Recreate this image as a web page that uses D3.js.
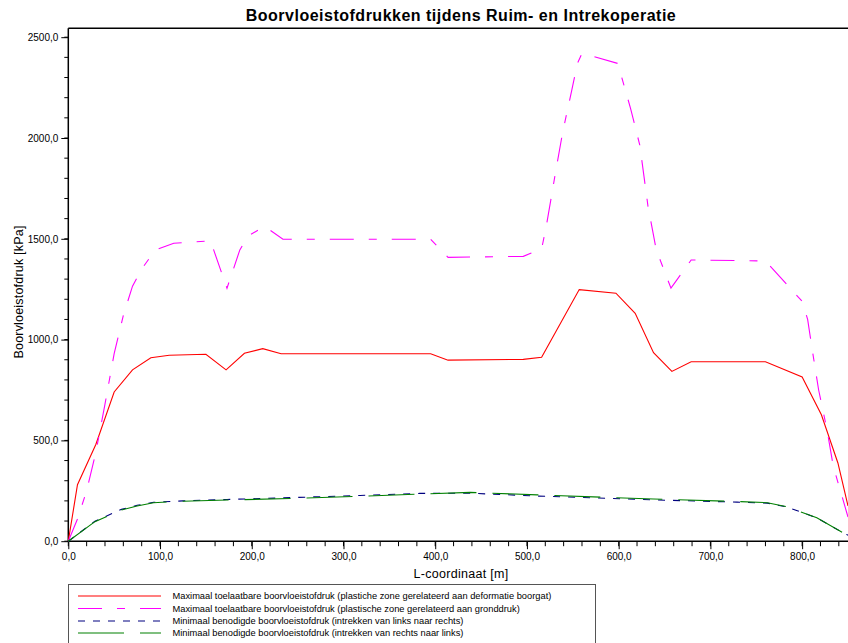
<!DOCTYPE html>
<html>
<head>
<meta charset="utf-8">
<script src="https://cdn.jsdelivr.net/npm/d3@7"></script>
<style>
  html, body { margin: 0; padding: 0; background: #fff; }
  svg { display: block; }
  text { font-family: "Liberation Sans", Arial, sans-serif; fill: #000; }
</style>
</head>
<body>
<svg id="chart" width="848" height="643"></svg>
<script>
// ---- data ----
const title = "Boorvloeistofdrukken tijdens Ruim- en Intrekoperatie";
const xLabel = "L-coordinaat [m]";
const yLabel = "Boorvloeistofdruk [kPa]";

const seriesNames = [
  "Maximaal toelaatbare boorvloeistofdruk (plastiche zone gerelateerd aan deformatie boorgat)",
  "Maximaal toelaatbare boorvloeistofdruk (plastische zone gerelateerd aan gronddruk)",
  "Minimaal benodigde boorvloeistofdruk (intrekken van links naar rechts)",
  "Minimaal benodigde boorvloeistofdruk (intrekken van rechts naar links)"
];

const xTickValues = [0, 100, 200, 300, 400, 500, 600, 700, 800];
const yTickValues = [0, 500, 1000, 1500, 2000, 2500];

// [L-coordinate (m), pressure (kPa)]
const maxDeformatie = [
  [0,0],[10,280],[30,480],[50,740],[70,850],[90,910],[110,922],[150,927],[172,850],
  [192,932],[212,955],[232,930],[395,930],[414,898],[496,902],[516,912],[557,1248],
  [597,1230],[618,1130],[638,935],[658,842],[679,890],[760,890],[800,815],[821,627],
  [839,388],[850,175]
];
const maxGronddruk = [
  [0,0],[10,110],[20,250],[30,440],[40,680],[50,930],[60,1120],[70,1265],[80,1350],
  [95,1445],[115,1478],[155,1490],[173,1255],[187,1445],[196,1514],[214,1562],[234,1498],
  [395,1498],[414,1408],[496,1413],[516,1450],[521,1560],[531,1825],[539,2030],[549,2240],
  [555,2370],[560,2420],[599,2370],[613,2146],[623,1965],[632,1660],[641,1445],[657,1255],
  [679,1395],[760,1390],[800,1190],[806,1100],[811,950],[818,750],[827,555],[834,371],[850,120]
];
const minLinksRechts = [
  [0,0],[29,99],[58,158],[75,178],[93,193],[125,200],[173,207],[242,216],[318,227],
  [383,237],[438,238],[511,224],[638,205],[729,194],[762,189],[783,170],[816,116],[845,41],[850,30]
];
const minRechtsLinks = [
  [0,0],[29,97],[58,155],[75,175],[93,191],[125,198],[173,204],[242,212],[318,223],
  [383,234],[438,242],[511,230],[638,209],[729,197],[762,191],[783,171],[816,116],[845,41],[850,30]
];

const series = [
  { name: seriesNames[0], data: maxDeformatie, color: "#ff0000", dash: null, width: 1.1 },
  { name: seriesNames[1], data: maxGronddruk, color: "#ff00ff", dash: "24,15,8,15", width: 1.1 },
  { name: seriesNames[2], data: minLinksRechts, color: "#000080", dash: "7,8", width: 1.1 },
  { name: seriesNames[3], data: minRechtsLinks, color: "#008000", dash: "46,16", width: 1.1 }
];

// ---- layout ----
const svg = d3.select("#chart");
const plotLeft = 68.3, plotRight = 848, plotTop = 28.3;
const x = d3.scaleLinear().domain([0, 850]).range([plotLeft, plotRight]);
const y = d3.scaleLinear().domain([0, 2500]).range([541.2, 37.2]);
const fmt = v => d3.format(".1f")(v).replace(".", ",");

// title
svg.append("text").attr("x", 461).attr("y", 21).attr("text-anchor", "middle")
  .style("font-size", "16px").style("font-weight", "bold").style("letter-spacing", "0.5px").text(title);

// top frame line
svg.append("line").attr("x1", plotLeft).attr("x2", plotRight).attr("y1", plotTop).attr("y2", plotTop)
  .attr("stroke", "#000").attr("stroke-width", 1.5);

// y axis
const yAxis = d3.axisLeft(y).tickValues(yTickValues).tickFormat(fmt).tickSize(7).tickPadding(3);
const gy = svg.append("g").attr("transform", `translate(${plotLeft},0)`).call(yAxis);
gy.select(".domain").remove();
gy.selectAll("text").style("font-size", "10px").style("font-family", "'Liberation Sans', Arial, sans-serif");
const yMinor = d3.range(0, 2501, 100);
svg.append("g").selectAll("line").data(yMinor).join("line")
  .attr("x1", plotLeft - 4).attr("x2", plotLeft).attr("y1", d => y(d)).attr("y2", d => y(d))
  .attr("stroke", "#000");
svg.append("line").attr("x1", plotLeft).attr("x2", plotLeft).attr("y1", plotTop).attr("y2", y(0) + 0.5)
  .attr("stroke", "#000").attr("stroke-width", 1.5);

// x axis
const xAxis = d3.axisBottom(x).tickValues(xTickValues).tickFormat(fmt).tickSize(8).tickPadding(4);
const gx = svg.append("g").attr("transform", `translate(0,${y(0)})`).call(xAxis);
gx.select(".domain").remove();
gx.selectAll("text").style("font-size", "10px").style("font-family", "'Liberation Sans', Arial, sans-serif");
const xMinor = d3.range(0, 841, 20);
svg.append("g").selectAll("line").data(xMinor).join("line")
  .attr("x1", d => x(d)).attr("x2", d => x(d)).attr("y1", y(0)).attr("y2", y(0) + 5)
  .attr("stroke", "#000");
svg.append("line").attr("x1", plotLeft).attr("x2", plotRight).attr("y1", y(0)).attr("y2", y(0))
  .attr("stroke", "#000").attr("stroke-width", 1.5);

// axis labels
svg.append("text").attr("x", 461).attr("y", 577.5).attr("text-anchor", "middle")
  .style("font-size", "12.5px").style("letter-spacing", "0.3px").text(xLabel);
svg.append("text").attr("transform", `translate(23,292) rotate(-90)`).attr("text-anchor", "middle")
  .style("font-size", "12.5px").style("letter-spacing", "0.2px").text(yLabel);

// lines
const line = d3.line().x(d => x(d[0])).y(d => y(d[1]));
series.forEach(s => {
  svg.append("path").datum(s.data).attr("d", line)
    .attr("fill", "none").attr("stroke", s.color).attr("stroke-width", s.width)
    .attr("stroke-dasharray", s.dash);
});

// legend
svg.append("rect").attr("x", 68.5).attr("y", 584.5).attr("width", 527).attr("height", 80)
  .attr("fill", "none").attr("stroke", "#555").attr("stroke-width", 1);
const legY = [596, 608.5, 621, 633];
series.forEach((s, i) => {
  svg.append("line").attr("x1", 78).attr("x2", 161).attr("y1", legY[i]).attr("y2", legY[i])
    .attr("stroke", s.color).attr("stroke-width", 1.1).attr("stroke-dasharray", s.dash);
  svg.append("text").attr("x", 172.5).attr("y", legY[i] + 3.3)
    .style("font-size", "9.3px").text(s.name);
});
</script>
</body>
</html>
